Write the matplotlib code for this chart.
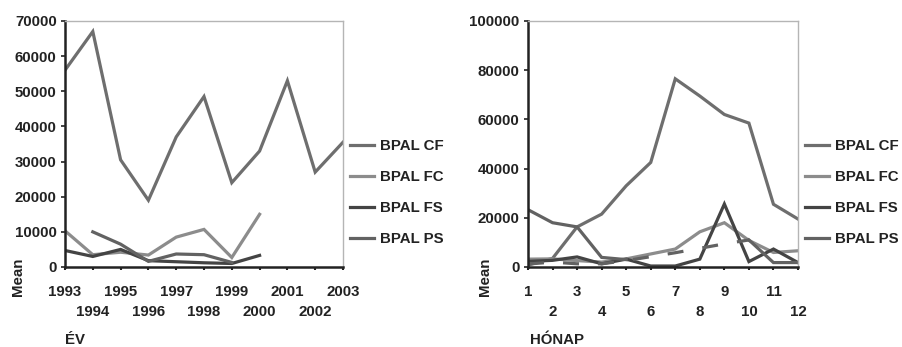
import numpy as np
import matplotlib
matplotlib.use("Agg")
import matplotlib.pyplot as plt

plt.rcParams['font.family'] = ['Liberation Sans', 'DejaVu Sans']
plt.rcParams['font.weight'] = 'bold'

# ---- Left chart: by year (ÉV)
years = [1993, 1994, 1995, 1996, 1997, 1998, 1999, 2000, 2001, 2002, 2003]
year_cf = [56000, 67000, 30500, 19000, 37000, 48500, 24000, 33000, 53000, 27000, 35500]
year_fc = [10300, 3500, 4200, 3400, 8500, 10700, 2700, 15000, np.nan, np.nan, np.nan]
year_fs = [4700, 3000, 5000, 1800, 1500, 1200, 1000, 3300, np.nan, np.nan, np.nan]
year_ps = [np.nan, 10000, 6500, 1600, 3700, 3500, 1300, np.nan, np.nan, np.nan, np.nan]

# ---- Right chart: by month (HÓNAP)
months = [1, 2, 3, 4, 5, 6, 7, 8, 9, 10, 11, 12]
month_cf = [800, 3500, 16300, 21500, 33000, 42500, 76500, 69500, 62000, 58500, 25500, 19500]
month_fc = [3200, 3300, 2600, 2000, 3300, 5300, 7300, 14300, 18000, 10800, 5900, 6600]
month_fs = [2300, 2700, 4100, 1300, 3200, 400, 400, 3200, 25600, 2200, 7300, 1800]
month_ps = [23300, 18000, 16300, 3900, 3000, np.nan, np.nan, np.nan, np.nan, 11000, 1800, 1800]
month_ps_gap = [1200, 2000, 1300, 1300, 2600, 4200, 5800, 7600, 9400, 11000, np.nan, np.nan]

series_names = ['BPAL CF', 'BPAL FC', 'BPAL FS', 'BPAL PS']
colors = ['#6e6e6e', '#8c8c8c', '#444444', '#626262']

fig = plt.figure(figsize=(9.03, 3.47), dpi=100)
W, H = 903, 347

def add_axes(x0, x1, ytop, ybot):
    return fig.add_axes([x0 / W, (H - ybot) / H, (x1 - x0) / W, (ybot - ytop) / H])

ax1 = add_axes(65, 343, 21, 267)
ax2 = add_axes(528, 798, 21, 267)

FS_ = 10.8
LW = 2.3
TXT = '#222222'

def style(ax, xs, ymax, ystep):
    ax.set_xlim(xs[0], xs[-1])
    ax.set_ylim(0, ymax)
    yt = np.arange(0, ymax + 1, ystep)
    ax.set_yticks(yt)
    ax.set_yticklabels([str(int(v)) for v in yt], fontsize=FS_, fontweight='bold', color=TXT)
    odd = xs[0::2]
    even = xs[1::2]
    ax.set_xticks(odd)
    ax.set_xticklabels([str(v) for v in odd], fontsize=FS_, fontweight='bold', color=TXT)
    ax.set_xticks(even, minor=True)
    ax.set_xticklabels([str(v) for v in even], minor=True, fontsize=FS_,
                       fontweight='bold', color=TXT)
    ax.tick_params(axis='x', which='major', direction='out', length=2.5, width=1.5,
                   pad=10.5, color=TXT)
    ax.tick_params(axis='x', which='minor', direction='out', length=2.5, width=1.5,
                   pad=24.5, color=TXT)
    ax.tick_params(axis='y', direction='out', length=3, width=1.2, pad=3, color=TXT)
    for s in ['left', 'bottom']:
        ax.spines[s].set_color(TXT)
        ax.spines[s].set_linewidth(1.8)
    for s in ['top', 'right']:
        ax.spines[s].set_color('#b5b5b5')
        ax.spines[s].set_linewidth(1.0)

for ax, xs, data in [(ax1, years, [year_cf, year_fc, year_fs, year_ps]),
                     (ax2, months, [month_cf, month_fc, month_fs, month_ps])]:
    for name, col, vals in zip(series_names, colors, data):
        ax.plot(xs, vals, color=col, lw=LW, label=name, solid_joinstyle='miter')

ax2.plot(months, month_ps_gap, color=colors[3], lw=LW, dashes=(5, 6))

style(ax1, years, 70000, 10000)
style(ax2, months, 100000, 20000)

for ax, x in [(ax1, 350), (ax2, 805)]:
    ax.legend(loc='upper left', bbox_to_anchor=(x / W, (H - 139) / H),
              bbox_transform=fig.transFigure, frameon=False,
              prop={'size': FS_, 'weight': 'bold'}, handlelength=1.6,
              handletextpad=0.4, labelspacing=1.13, borderpad=0, borderaxespad=0,
              labelcolor=TXT)

fig.text(18 / W, 1 - 277 / H, 'Mean', rotation=90, ha='center', va='center',
         fontsize=FS_, fontweight='bold', color=TXT)
fig.text(485 / W, 1 - 277 / H, 'Mean', rotation=90, ha='center', va='center',
         fontsize=FS_, fontweight='bold', color=TXT)
fig.text(65 / W, 1 - 340 / H, 'ÉV', ha='left', va='center',
         fontsize=FS_, fontweight='bold', color=TXT)
fig.text(530 / W, 1 - 340 / H, 'HÓNAP', ha='left', va='center',
         fontsize=FS_, fontweight='bold', color=TXT)

fig.savefig('out.png', dpi=100)
